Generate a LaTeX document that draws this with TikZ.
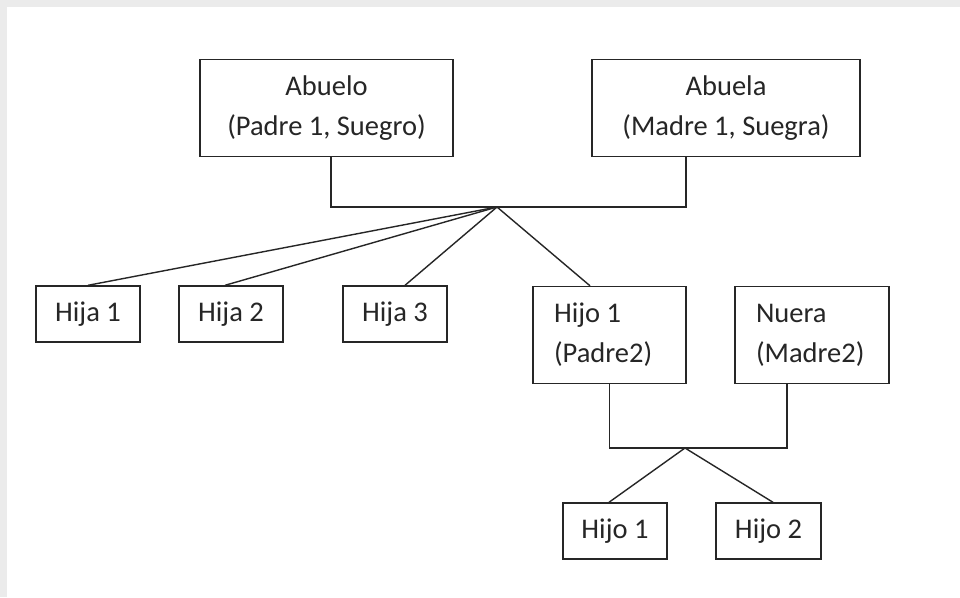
\documentclass[tikz,border=0pt]{standalone}
\usepackage{fontspec}
\setmainfont{Carlito}
\usetikzlibrary{positioning,calc}
\definecolor{cLine}{HTML}{262626}
\definecolor{cText}{HTML}{262626}
\definecolor{cFrame}{HTML}{EBEBEB}

\begin{document}
\begin{tikzpicture}[
   x=1pt, y=-1pt,
   font=\fontsize{28.5}{40}\selectfont,
   persona/.style={draw=cLine, fill=white, line width=1.4pt, text=cText,
                   inner sep=0pt, minimum height=56pt, align=center},
   pareja/.style={persona, minimum height=97pt},
   izq/.style={pareja, align=flush left, inner xsep=21pt},
   linea/.style={draw=cLine, line width=1.4pt}]
  % fondo con marco gris arriba y a la izquierda
  \fill[cFrame] (0,0) rectangle (960,597);
  \fill[white] (7,7) rectangle (960,597);
  \useasboundingbox (0,0) rectangle (960,597);
  % abuelos
  \node[pareja, minimum width=253pt] (abuelo) at (326.5,108) {Abuelo\\(Padre 1, Suegro)};
  \node[pareja, minimum width=268pt] (abuela) at (726,108)   {Abuela\\(Madre 1, Suegra)};
  % hijos
  \node[persona, minimum width=104pt] (hija1) at (88,314)  {Hija 1};
  \node[persona, minimum width=104pt] (hija2) at (231,314) {Hija 2};
  \node[persona, minimum width=104pt] (hija3) at (395,314) {Hija 3};
  \node[izq, text width=111pt] (hijo1) at (609.5,335) {Hijo 1\\(Padre2)};
  \node[izq, text width=112pt] (nuera) at (812,335)   {Nuera\\(Madre2)};
  % nietos
  \node[persona, minimum width=104pt] (nieto1) at (615,531)   {Hijo 1};
  \node[persona, minimum width=105pt] (nieto2) at (768.5,531) {Hijo 2};
  % uniones
  \coordinate (u1) at (497,207);
  \coordinate (u2) at (685,448);
  \draw[linea] ([xshift=4.5pt]abuelo.south) |- (u1) -| ([xshift=-40pt]abuela.south);
  \draw[linea] (u1) -- (hija1.north);
  \draw[linea] (u1) -- ([xshift=-6pt]hija2.north);
  \draw[linea] (u1) -- ([xshift=10pt]hija3.north);
  \draw[linea] (u1) -- ([xshift=-19.5pt]hijo1.north);
  \draw[linea] (hijo1.south) |- (u2) -| ([xshift=-25pt]nuera.south);
  \draw[linea] (u2) -- ([xshift=-6pt]nieto1.north);
  \draw[linea] (u2) -- ([xshift=4.5pt]nieto2.north);
\end{tikzpicture}
\end{document}
